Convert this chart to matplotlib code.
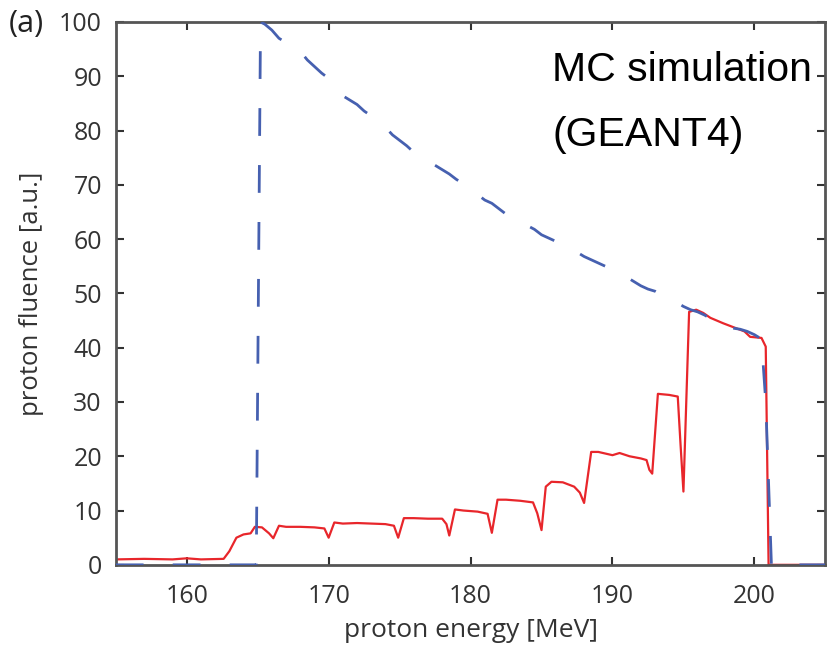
import matplotlib
matplotlib.use("Agg")
import matplotlib.pyplot as plt

plt.rcParams['font.family'] = ['Open Sans', 'DejaVu Sans']
plt.rcParams['lines.scale_dashes'] = False

# Blue dashed curve (MC simulation, incident spectrum)
blue_x = [155, 164.9, 165.2, 165.5, 166.0, 166.5, 167.0, 167.5, 168.0, 168.5, 169.0,
          169.5, 170.0, 170.5, 171.0, 171.5, 172.0, 172.5, 173.0, 173.5, 174.0,
          174.5, 175.0, 175.5, 176.0, 176.5, 177.0, 177.5, 178.0, 178.5, 179.0,
          179.5, 180.0, 180.5, 181.0, 181.5, 182.0, 182.5, 183.0, 183.5, 184.0,
          184.5, 185.0, 185.5, 186.0, 186.5, 187.0, 187.5, 188.0, 188.5, 189.0,
          189.5, 190.0, 190.5, 191.0, 191.5, 192.0, 192.5, 193.0, 193.5, 194.0,
          194.5, 195.0, 195.5, 196.0, 196.5, 197.0, 197.5, 198.0, 198.5, 199.0,
          199.5, 200.0, 200.5, 200.8, 201.0, 201.2, 205]
blue_y = [0, 0, 100, 99.6, 98.5, 97.0, 96.2, 95.6, 94.6, 93.0, 91.8,
          90.6, 89.6, 88.0, 86.4, 85.6, 84.8, 83.6, 82.7, 81.6, 80.6,
          79.2, 78.2, 77.2, 76.0, 75.0, 74.4, 73.6, 72.8, 72.0, 71.0,
          70.2, 69.4, 68.2, 67.2, 66.6, 65.6, 64.6, 64.0, 63.2, 62.5,
          61.8, 60.8, 60.2, 59.6, 58.8, 58.2, 57.6, 56.8, 56.2, 55.6,
          55.0, 54.2, 53.5, 53.0, 52.2, 51.4, 50.8, 50.4, 49.6, 49.0,
          48.4, 47.6, 47.0, 46.6, 46.0, 45.2, 44.4, 44.0, 43.6, 43.4,
          43.0, 42.4, 41.6, 30.0, 15.0, 0, 0]

# Red solid curve (modulated spectrum)
red_x = [155, 157, 159, 160, 161, 162.6, 163.0, 163.5, 164.0, 164.5, 164.8,
         165.3, 165.8, 166.1, 166.5, 167.0, 168.0, 169.0, 169.7, 170.0, 170.4,
         171.0, 172.0, 173.0, 174.0, 174.6, 174.9, 175.3, 176.0, 177.0, 178.0,
         178.3, 178.5, 178.9, 179.5, 180.5, 181.2, 181.5, 181.9, 182.5, 183.5,
         184.4, 184.7, 185.0, 185.3, 185.7, 186.5, 187.3, 187.7, 188.0, 188.5,
         189.0, 190.0, 190.5, 191.2, 192.0, 192.4, 192.6, 192.8, 193.2, 194.0,
         194.6, 194.8, 195.0, 195.4, 195.9, 196.4, 196.9, 197.8, 198.5, 199.3,
         199.7, 200.5, 200.8, 201.0, 205]
red_y = [1.0, 1.1, 1.0, 1.2, 1.0, 1.1, 2.5, 5.0, 5.6, 5.8, 7.0,
         6.9, 5.8, 4.9, 7.2, 7.0, 7.0, 6.9, 6.7, 5.0, 7.8,
         7.6, 7.7, 7.6, 7.5, 7.2, 5.0, 8.6, 8.6, 8.5, 8.5,
         7.5, 5.4, 10.2, 10.0, 9.8, 9.4, 5.9, 12.0, 12.0, 11.8,
         11.5, 9.5, 6.4, 14.4, 15.3, 15.2, 14.4, 13.3, 11.4, 20.8,
         20.8, 20.2, 20.6, 20.0, 19.6, 19.3, 17.5, 16.8, 31.5, 31.3,
         31.0, 22.0, 13.5, 46.6, 47.0, 46.4, 45.5, 44.5, 43.8, 43.0,
         42.0, 41.8, 40.2, 0, 0]

x_ticks = [160, 170, 180, 190, 200]
y_ticks = [0, 10, 20, 30, 40, 50, 60, 70, 80, 90, 100]

fig = plt.figure(figsize=(8.27, 6.47), dpi=100)
ax = fig.add_axes([0.140, 0.127, 0.858, 0.839])

ax.plot(red_x, red_y, color='#e8262b', lw=1.6, zorder=2)
bl, = ax.plot(blue_x, blue_y, color='#4660b0', lw=2.0, zorder=3)
bl.set_dashes([20, 21])

ax.set_xlim(155, 205)
ax.set_ylim(0, 100)
ax.set_xticks(x_ticks)
ax.set_yticks(y_ticks)
ax.tick_params(direction='in', length=6, width=1.5, top=True, right=True,
               labelsize=18, colors='#333333', pad=10)
ax.tick_params(axis='x', pad=14)
for s in ax.spines.values():
    s.set_color('#555555')
    s.set_linewidth(2)

ax.set_xlabel('proton energy [MeV]', fontsize=19, color='#333333', labelpad=6)
ax.set_ylabel('proton fluence [a.u.]', fontsize=18.5, color='#333333', labelpad=11)

ax.text(0.615, 0.891, 'MC simulation', transform=ax.transAxes,
        family='Liberation Sans', fontsize=29.5, ha='left', va='baseline', color='black')
ax.text(0.615, 0.772, '(GEANT4)', transform=ax.transAxes,
        family='Liberation Sans', fontsize=29.5, ha='left', va='baseline', color='black')

fig.text(0.011, 1 - 24 / 647, '(a)', fontsize=22, color='#222222', va='center', ha='left')

fig.savefig('out.png', dpi=100)
